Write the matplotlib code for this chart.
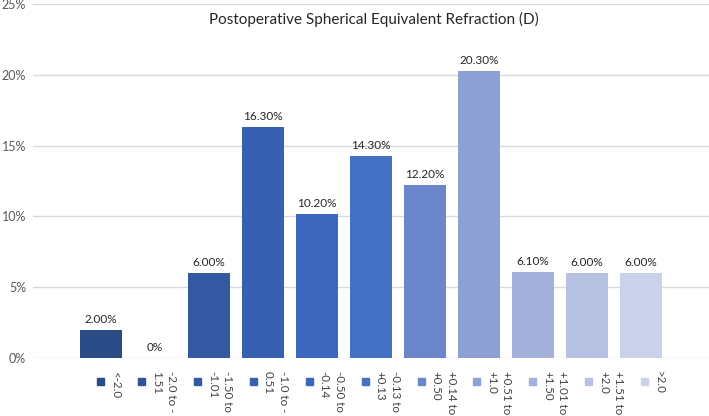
import matplotlib
matplotlib.use("Agg")
import matplotlib.pyplot as plt
from matplotlib.patches import Rectangle
from matplotlib.ticker import FuncFormatter

plt.rcParams['font.family'] = ['Lato', 'DejaVu Sans']

# data
categories = ["<-2.0", "-2.0 to -\n1.51", "-1.50 to\n-1.01", "-1.0 to -\n0.51",
              "-0.50 to\n-0.14", "-0.13 to\n+0.13", "+0.14 to\n+0.50",
              "+0.51 to\n+1.0", "+1.01 to\n+1.50", "+1.51 to\n+2.0", ">2.0"]
values = [2.0, 0.0, 6.0, 16.3, 10.2, 14.3, 12.2, 20.3, 6.1, 6.0, 6.0]
value_labels = ["2.00%", "0%", "6.00%", "16.30%", "10.20%", "14.30%",
                "12.20%", "20.30%", "6.10%", "6.00%", "6.00%"]
y_ticks = [0, 5, 10, 15, 20, 25]

colors = ["#2B4B86", "#2F5597", "#3459A2", "#3761B0", "#3C67BC", "#4471C4",
          "#6B86CB", "#8CA0D3", "#A3B1DA", "#B7C1E2", "#CAD2EA"]

W, H = 709, 416
fig = plt.figure(figsize=(W / 100, H / 100), dpi=100)
ax = fig.add_axes([33 / W, 1 - 358 / H, 1 - 33 / W, (358 - 4) / H])

x = range(len(values))
bars = ax.bar(x, values, width=0.78, color=colors, zorder=3)
for b, lab in zip(bars, value_labels):
    ax.annotate(lab, (b.get_x() + b.get_width() / 2, b.get_height()),
                xytext=(0, 3.5), textcoords='offset points',
                ha='center', va='bottom', fontsize=8.5, color='#262626')

ax.set_xlim(-1.26, 11.26)
ax.set_ylim(0, 25)
ax.set_yticks(y_ticks)
ax.yaxis.set_major_formatter(FuncFormatter(lambda v, p: "%d%%" % v))
ax.set_xticks([])
ax.grid(axis='y', color='#D9D9D9', linewidth=1, zorder=0)
ax.tick_params(axis='y', length=0, pad=5, labelsize=9, labelcolor='#595959')
for s in ax.spines.values():
    s.set_visible(False)

fig.text(374 / W, 1 - 19 / H, "Postoperative Spherical Equivalent Refraction (D)",
         ha='center', va='center', fontsize=11, color='#262626')

# legend along the bottom, text turned to read downwards
for i, (cat, c) in enumerate(zip(categories, colors)):
    mx = 97 if i == 0 else 138 + (i - 1) * 55.9
    fig.patches.append(Rectangle((mx / W, 1 - 385 / H), 7 / W, 7 / H,
                                 transform=fig.transFigure, color=c))
    fig.text((mx + 13) / W, 1 - 371 / H, cat, rotation=-90,
             ha='left', va='top', fontsize=8.3, color='#404040',
             linespacing=1.45)

fig.savefig("out.png", dpi=100)
